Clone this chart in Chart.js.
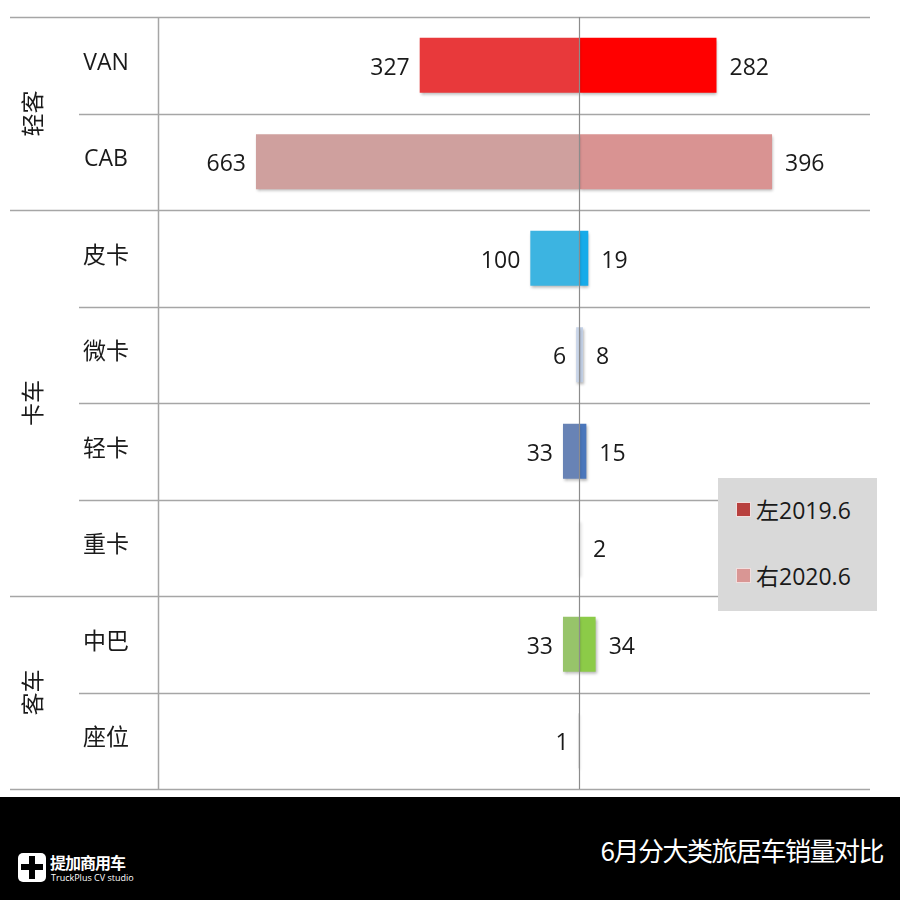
<!DOCTYPE html>
<html lang="zh-CN">
<head>
    <meta charset="UTF-8">
    <title>6月分大类旅居车销量对比</title>
    <script src="https://cdn.jsdelivr.net/npm/chart.js"></script>
    <style>
        body {
            margin: 0;
            width: 900px;
            height: 900px;
            overflow: hidden;
            background: #fff;
            font-family: "Open Sans", "Noto Sans CJK SC", sans-serif;
        }

        #chart-box {
            position: relative;
            width: 900px;
            height: 797px;
        }

        /* 图例 */
        #legend {
            position: absolute;
            left: 718px;
            top: 478px;
            width: 159px;
            height: 133px;
            background: #d9d9d9;
            font-size: 23px;
            color: #1a1a1a;
        }

        #legend div {
            position: absolute;
            left: 18px;
            line-height: 30px;
        }

        #legend span {
            display: inline-block;
            width: 13px;
            height: 13px;
            margin-right: 5px;
            vertical-align: 2px;
            border: 1px solid #f2dede;
        }

        #footer {
            position: relative;
            width: 900px;
            height: 103px;
            background: #000;
            color: #fff;
        }

        #title {
            position: absolute;
            right: 17px;
            top: 34px;
            font-family: "Noto Sans CJK SC", sans-serif;
            font-size: 26px;
            letter-spacing: -1.5px;
        }

        #logo-icon {
            position: absolute;
            left: 18px;
            top: 56px;
            width: 28px;
            height: 29px;
            background: #fff;
            border-radius: 5px;
        }

        #logo-icon::before {
            content: "";
            position: absolute;
            left: 11px;
            top: 3px;
            width: 6px;
            height: 23px;
            background: #000;
        }

        #logo-icon::after {
            content: "";
            position: absolute;
            left: 3px;
            top: 11px;
            width: 22px;
            height: 6px;
            background: #000;
        }

        #logo-cn {
            position: absolute;
            left: 50px;
            top: 53px;
            font-family: "Noto Sans CJK SC", sans-serif;
            font-size: 16px;
            font-weight: bold;
            letter-spacing: -1px;
        }

        #logo-en {
            position: absolute;
            left: 51px;
            top: 74px;
            font-size: 9px;
        }
    </style>
</head>
<body>
    <div id="chart-box">
        <canvas id="rv-chart"></canvas>
        <div id="legend">
            <div style="top: 17px;"><span style="background:#b8403e;"></span>左2019.6</div>
            <div style="top: 83px;"><span style="background:#d99694;"></span>右2020.6</div>
        </div>
    </div>
    <div id="footer">
        <div id="title">6月分大类旅居车销量对比</div>
        <div id="logo-icon"></div>
        <div id="logo-cn">提加商用车</div>
        <div id="logo-en">TruckPlus CV studio</div>
    </div>

    <script>
        // 数据
        const categories = ['VAN', 'CAB', '皮卡', '微卡', '轻卡', '重卡', '中巴', '座位'];
        const groupNames = ['轻客', '卡车', '客车'];
        const groupSizes = [2, 4, 2];
        const sales2019 = [327, 663, 100, 6, 33, 0, 33, 1];
        const sales2020 = [282, 396, 19, 8, 15, 2, 34, 0];

        // 每类车的颜色（左 / 右）
        const leftColors = ['#e8393b', '#cfa09e', '#3cb4e1', '#c9d5e8', '#6883b5', '#cccccc', '#97c46a', '#c8c8c8'];
        const rightColors = ['#ff0000', '#d99392', '#17abe9', '#c3d0e6', '#4a76bb', '#cccccc', '#8ccb48', '#c8c8c8'];

        const labelFont = '23px "Open Sans", "Noto Sans CJK SC", sans-serif';
        const lineColor = '#a6a6a6';

        // 网格、分类标签和数值标签
        const tablePlugin = {
            id: 'tablePlugin',
            beforeDatasetsDraw(chart) {
                const ctx = chart.ctx;
                const area = chart.chartArea;
                const yScale = chart.scales.y;
                const rowH = (area.bottom - area.top) / categories.length;

                ctx.save();
                ctx.strokeStyle = lineColor;
                ctx.lineWidth = 1.5;
                // 横线
                const groupEnds = [];
                let acc = 0;
                groupSizes.forEach(n => { acc += n; groupEnds.push(acc); });
                for (let i = 0; i <= categories.length; i++) {
                    const y = Math.round(area.top + i * rowH) + 0.5;
                    const fromX = (i === 0 || groupEnds.includes(i)) ? 10 : 79;
                    ctx.beginPath();
                    ctx.moveTo(fromX, y);
                    ctx.lineTo(area.right, y);
                    ctx.stroke();
                }
                // 分类列右边的竖线
                ctx.beginPath();
                ctx.moveTo(area.left + 0.5, area.top);
                ctx.lineTo(area.left + 0.5, area.bottom);
                ctx.stroke();

                // 分类标签
                ctx.fillStyle = '#1a1a1a';
                ctx.font = labelFont;
                ctx.textAlign = 'center';
                ctx.textBaseline = 'middle';
                categories.forEach((c, i) => {
                    ctx.fillText(c, 106, yScale.getPixelForValue(i) - 2);
                });

                // 分组标签（竖排旋转）
                let start = 0;
                groupNames.forEach((g, k) => {
                    const yMid = area.top + (start + groupSizes[k] / 2) * rowH;
                    ctx.save();
                    ctx.translate(34, yMid);
                    ctx.rotate(-Math.PI / 2);
                    ctx.fillText(g, 0, 0);
                    ctx.restore();
                    start += groupSizes[k];
                });
                ctx.restore();

                // 柱子阴影
                ctx.save();
                ctx.shadowColor = 'rgba(0, 0, 0, 0.3)';
                ctx.shadowBlur = 3;
                ctx.shadowOffsetX = 1;
                ctx.shadowOffsetY = 2;
            },
            afterDatasetsDraw(chart) {
                const ctx = chart.ctx;
                ctx.restore();
                const area = chart.chartArea;
                const xScale = chart.scales.x;
                const zeroX = Math.round(xScale.getPixelForValue(0)) + 0.5;

                ctx.save();
                // 中间竖线
                ctx.strokeStyle = '#8c8c8c';
                ctx.lineWidth = 1.2;
                ctx.beginPath();
                ctx.moveTo(zeroX, area.top);
                ctx.lineTo(zeroX, area.bottom);
                ctx.stroke();

                // 数值标签
                ctx.fillStyle = '#1a1a1a';
                ctx.font = labelFont;
                ctx.textBaseline = 'middle';
                const leftMeta = chart.getDatasetMeta(0);
                const rightMeta = chart.getDatasetMeta(1);
                sales2019.forEach((v, i) => {
                    if (!v) return;
                    const bar = leftMeta.data[i];
                    ctx.textAlign = 'right';
                    ctx.fillText(String(v), Math.min(bar.x, zeroX) - 10, bar.y + 3);
                });
                sales2020.forEach((v, i) => {
                    if (!v) return;
                    const bar = rightMeta.data[i];
                    ctx.textAlign = 'left';
                    ctx.fillText(String(v), Math.max(bar.x, zeroX) + 13, bar.y + 3);
                });
                ctx.restore();
            }
        };

        const ctx = document.getElementById('rv-chart').getContext('2d');
        const rvChart = new Chart(ctx, {
            type: 'bar',
            data: {
                labels: categories,
                datasets: [
                    {
                        label: '左2019.6',
                        data: sales2019.map(v => -v),
                        backgroundColor: leftColors,
                        barPercentage: 0.57,
                        categoryPercentage: 1
                    },
                    {
                        label: '右2020.6',
                        data: sales2020,
                        backgroundColor: rightColors,
                        barPercentage: 0.57,
                        categoryPercentage: 1
                    }
                ]
            },
            options: {
                indexAxis: 'y',
                responsive: true,
                maintainAspectRatio: false,
                animation: false,
                layout: {
                    padding: { left: 158, right: 30, top: 17, bottom: 8 }
                },
                scales: {
                    x: {
                        stacked: true,
                        min: -864,
                        max: 597,
                        display: false
                    },
                    y: {
                        stacked: true,
                        display: false
                    }
                },
                plugins: {
                    legend: { display: false },
                    tooltip: { enabled: false }
                }
            },
            plugins: [tablePlugin]
        });
    </script>
</body>
</html>
